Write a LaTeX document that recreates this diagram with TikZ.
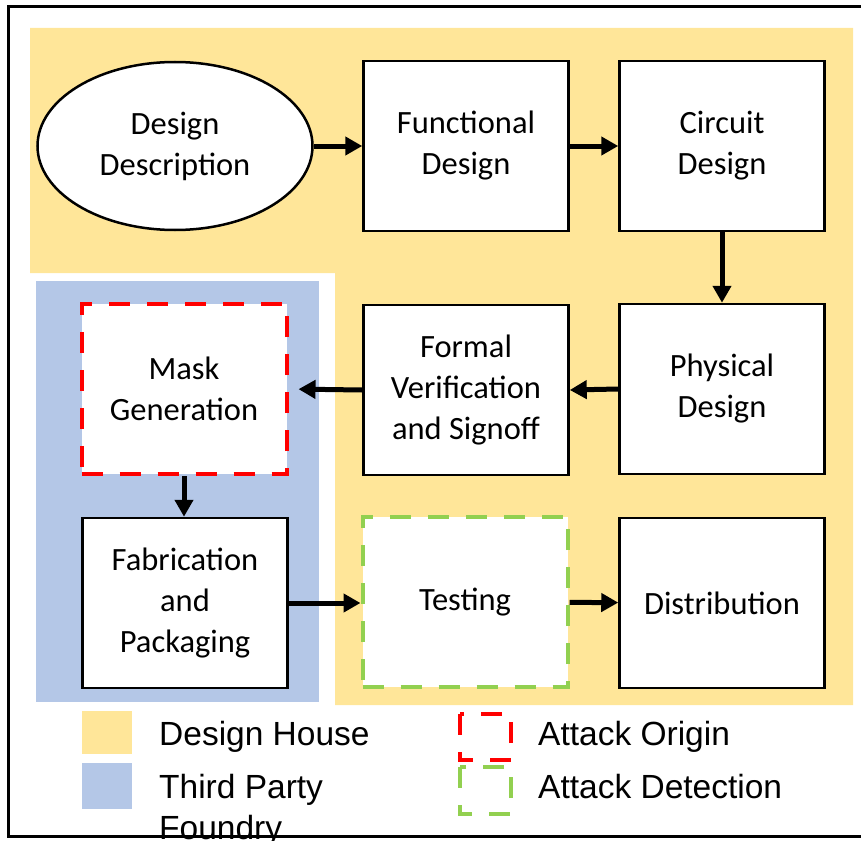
\documentclass[tikz,border=0pt]{standalone}
\usepackage{fontspec}
\setmainfont{Carlito}
\newfontfamily\legendfont{Liberation Sans}
\usetikzlibrary{shapes.geometric}
\usetikzlibrary{arrows.meta}

\definecolor{househue}{HTML}{FFE699}
\definecolor{foundryhue}{HTML}{B4C7E7}
\definecolor{originred}{HTML}{FF0000}
\definecolor{detectgreen}{HTML}{92D050}

\tikzset{
  stage/.style={draw, line width=2.5pt, fill=white, minimum width=205pt, minimum height=170pt,
    inner sep=0pt, align=center, font=\fontsize{32.5}{41}\selectfont},
  originbox/.style={stage, draw=originred, line width=4pt, dash pattern=on 21pt off 17pt},
  detectbox/.style={stage, draw=detectgreen, line width=4pt, dash pattern=on 21pt off 17pt},
  flow/.style={line width=5pt, -{Triangle[length=17pt,width=18pt]}},
  legendtext/.style={anchor=north west, inner sep=0pt, align=left,
    font=\legendfont\fontsize{33.5}{41}\selectfont},
}

\begin{document}
\begin{tikzpicture}[x=1pt, y=-1pt]
  \useasboundingbox (0,0) rectangle (861,840);
  \clip (0,0) rectangle (861,840);
  \draw[line width=3pt] (8,7) rectangle (880,836);
  \fill[househue] (30,28) -- (853,28) -- (853,705) -- (335,705) -- (335,273) -- (30,273) -- cycle;
  \fill[foundryhue] (36,281) rectangle (319,702);

  \node[stage, ellipse, minimum width=275pt, minimum height=168pt] (desc) at (175,146) {Design\\Description};
  \node[stage] (func) at (466,146) {Functional\\Design};
  \node[stage] (circ) at (722,146) {Circuit\\Design};
  \node[stage] (phys) at (722,389) {Physical\\Design};
  \node[stage] (formal) at (466,390) {Formal\\Verification\\and Signoff};
  \node[originbox] (mask) at (184,389) {Mask\\Generation};
  \node[stage] (fab) at (185,603) {Fabrication\\and\\Packaging};
  \node[detectbox] (test) at (465,602) {Testing};
  \node[stage] (dist) at (722,603) {Distribution};

  \draw[flow] (desc) -- (func);
  \draw[flow] (func) -- (circ);
  \draw[flow] (circ) -- (phys);
  \draw[flow] (phys.west) -- (formal.east);
  \draw[flow, shorten >=10pt] (formal.west) -- (mask.east);
  \draw[flow] (mask.south) -- (mask.south |- fab.north);
  \draw[flow] (fab.east) -- (fab.east -| test.west);
  \draw[flow] (test) -- (dist);

  % legend
  \fill[househue] (82,711) rectangle (132,754);
  \fill[foundryhue] (82,763) rectangle (132,809);
  \node[legendtext] (househint) at (159,721) {Design House};
  \node[legendtext] (foundryhint) at (159,774) {Third Party\\Foundry};
  \draw[originred, line width=4pt, dash pattern=on 21pt off 17pt] (460,714) rectangle (511,760);
  \draw[detectgreen, line width=4pt, dash pattern=on 21pt off 17pt] (460,767) rectangle (511,814);
  \node[legendtext] (originhint) at (538,721) {Attack Origin};
  \node[legendtext] (detecthint) at (538,774) {Attack Detection};
\end{tikzpicture}
\end{document}
